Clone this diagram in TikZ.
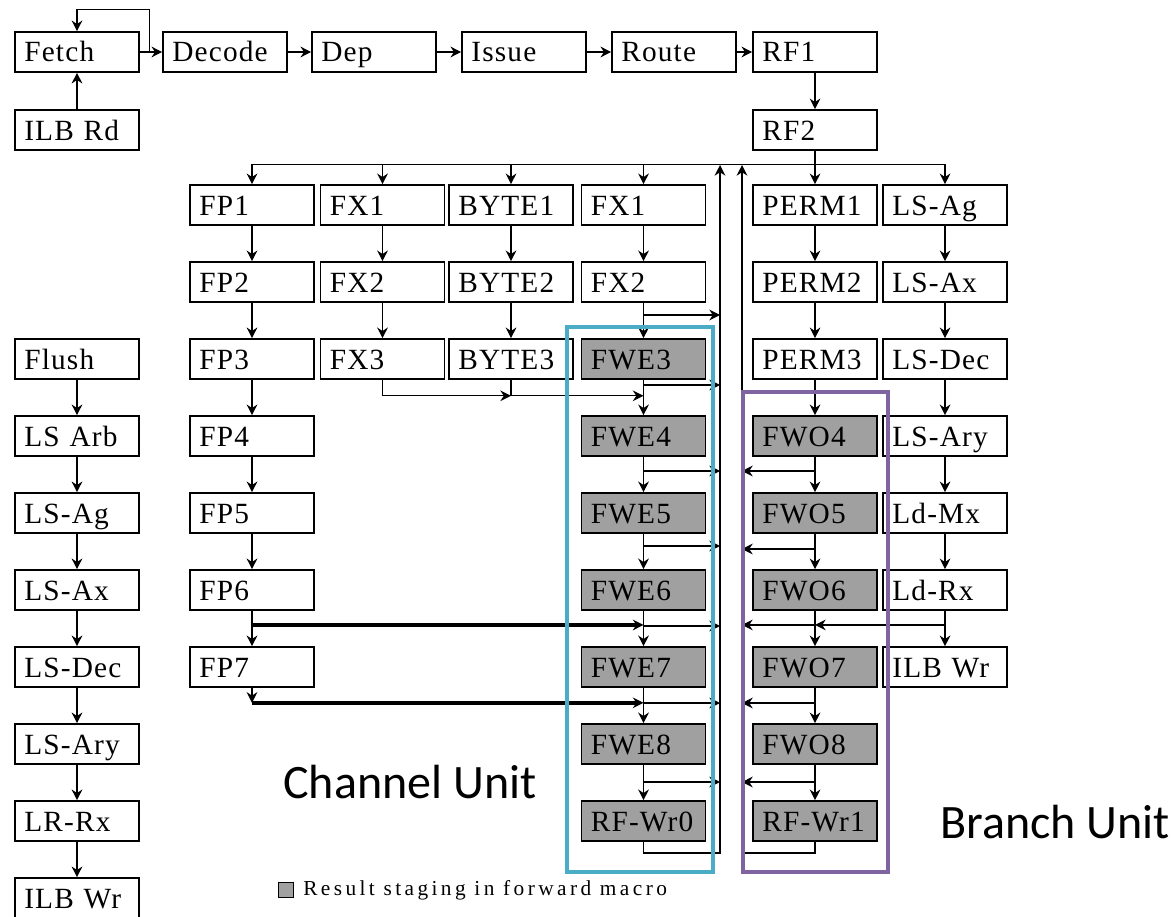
\documentclass[tikz,border=0pt]{standalone}
\usepackage{fontspec}
\setmainfont{Liberation Serif}
\newfontfamily\stagefont[LetterSpace=4]{Liberation Serif}
\newfontfamily\legendfont[LetterSpace=16]{Liberation Serif}
\newfontfamily\unitfont{Carlito}
\usetikzlibrary{arrows.meta,positioning,calc}

\definecolor{stagegray}{RGB}{160,160,160}
\definecolor{chancyan}{RGB}{75,172,198}
\definecolor{branchpurple}{RGB}{128,100,162}

\tikzset{
  stage/.style={draw, line width=1.2pt, rectangle, minimum height=30pt,
    text width=79pt, align=left, inner xsep=7pt, inner ysep=2pt,
    text height=18pt, text depth=3pt, font=\stagefont\fontsize{22}{24}\selectfont},
  fwd/.style={stage, fill=stagegray},
  link/.style={line width=1pt, -{Stealth[length=8pt,width=8pt]}},
  wire/.style={line width=1pt},
  heavy/.style={line width=2.6pt, -{Stealth[length=8pt,width=8pt]}},
  chanframe/.style={draw=chancyan, line width=3pt},
  branchframe/.style={draw=branchpurple, line width=3pt},
  unitlabel/.style={inner sep=0pt, font=\unitfont\fontsize{36}{40}\selectfont}
}

\begin{document}
\begin{tikzpicture}[x=0.75pt,y=0.75pt,yscale=-1,xscale=1]
\useasboundingbox (0,0) rectangle (1174,917);

%Shape: Front end stages
\node[stage] (Fetch) at (77,52) {Fetch};
\node[stage] (Decode) at (225,52) {Decode};
\node[stage] (Dep) at (374,52) {Dep};
\node[stage] (Issue) at (524,52) {Issue};
\node[stage] (Route) at (674,52) {Route};
\node[stage] (RFone) at (815,52) {RF1};
\node[stage] (ILBRd) at (77,130) {ILB Rd};
\node[stage] (RFtwo) at (815,130) {RF2};

%Shape: Pipeline columns
\foreach \t [count=\i] in {FP1,FP2,FP3,FP4,FP5,FP6,FP7}
  \node[stage] (fp\i) at (252,{128+77*\i}) {\t};
\foreach \t [count=\i] in {FX1,FX2,FX3}
  \node[stage] (fx\i) at (382.5,{128+77*\i}) {\t};
\foreach \t [count=\i] in {BYTE1,BYTE2,BYTE3}
  \node[stage] (by\i) at (511,{128+77*\i}) {\t};
\foreach \t [count=\i] in {FX1,FX2}
  \node[stage] (fw\i) at (643.5,{128+77*\i}) {\t};
\foreach \t [count=\i from 3] in {FWE3,FWE4,FWE5,FWE6,FWE7,FWE8,RF-Wr0}
  \node[fwd] (fw\i) at (643.5,{128+77*\i}) {\t};
\foreach \t [count=\i] in {PERM1,PERM2,PERM3}
  \node[stage] (pm\i) at (815,{128+77*\i}) {\t};
\foreach \t [count=\i from 4] in {FWO4,FWO5,FWO6,FWO7,FWO8,RF-Wr1}
  \node[fwd] (pm\i) at (815,{128+77*\i}) {\t};
\foreach \t [count=\i] in {LS-Ag,LS-Ax,LS-Dec,LS-Ary,Ld-Mx,Ld-Rx,ILB Wr}
  \node[stage] (ls\i) at (945,{128+77*\i}) {\t};
\foreach \t [count=\i from 3] in {Flush,LS Arb,LS-Ag,LS-Ax,LS-Dec,LS-Ary,LR-Rx,ILB Wr}
  \node[stage] (lc\i) at (77,{128+77*\i}) {\t};

%Straight Lines: front end
\foreach \a/\b in {Fetch/Decode,Decode/Dep,Dep/Issue,Issue/Route,Route/RFone,RFone/RFtwo}
  \draw[link] (\a) -- (\b);
\draw[link, line width=2pt] (ILBRd) -- (Fetch);
\coordinate (fj) at ($(Fetch.east)!0.42!(Decode.west)$);
\draw[link] (fj) |- ($(Fetch.north)+(0,-22)$) -- (Fetch.north);

%Straight Lines: dispatch bus
\coordinate (busL) at ($(fp1.north)+(0,-20)$);
\draw[wire] (busL) -- (busL -| ls1.north);
\foreach \n in {fp1,fx1,by1,fw1,ls1}
  \draw[link] (\n.north |- busL) -- (\n.north);
\draw[link] (RFtwo) -- (pm1);

%Straight Lines: columns
\foreach \i in {2,...,7}{
  \pgfmathtruncatemacro\k{\i-1}
  \draw[link] (fp\k) -- (fp\i);
  \draw[link] (ls\k) -- (ls\i);
}
\foreach \i in {2,3}{
  \pgfmathtruncatemacro\k{\i-1}
  \draw[link] (fx\k) -- (fx\i);
  \draw[link] (by\k) -- (by\i);
}
\foreach \i in {2,...,9}{
  \pgfmathtruncatemacro\k{\i-1}
  \draw[link] (fw\k) -- (fw\i);
  \draw[link] (pm\k) -- (pm\i);
}
\foreach \i in {4,...,10}{
  \pgfmathtruncatemacro\k{\i-1}
  \draw[link] (lc\k) -- (lc\i);
}

%Straight Lines: result return paths
\coordinate (cTop) at (720,165);
\coordinate (cBot) at (720,853);
\coordinate (bTop) at (742,165);
\coordinate (bBot) at (742,853);
\draw[link] (fw9.south) -- (fw9.south |- cBot) -- (cBot) -- (cTop);
\draw[link] (pm9.south) -- (pm9.south |- bBot) -- (bBot) -- (bTop);

\foreach \n/\y in {fw2/315,fw3/385,fw4/471,fw5/546,fw6/626,fw7/703,fw8/782}
  \draw[link] (\n.south |- 0,\y) -- (cBot |- 0,\y);
\foreach \n/\y in {pm4/471,pm5/549,pm7/703,pm8/782}
  \draw[link] (\n.south |- 0,\y) -- (bBot |- 0,\y);

% load result
\coordinate (ldTap) at ($(ls6.south)!0.4!(ls7.north)$);
\draw[link] (ldTap) -- (pm6.south |- ldTap);
\draw[link] (pm6.south |- ldTap) -- (bBot |- ldTap);

% FX3 and BYTE3 results
\coordinate (fxTap) at ($(fx3.south)+(0,16)$);
\draw[wire] (by3.south) -- (by3.south |- fxTap);
\draw[link] (fx3.south) |- (by3.south |- fxTap);
\draw[link] (by3.south |- fxTap) -- (fw4.north |- fxTap);

% FP6 and FP7 results
\coordinate (fpSix) at ($(fp6.south)!0.4!(fp7.north)$);
\coordinate (fpSeven) at ($(fp7.south)+(0,15)$);
\draw[heavy] (fpSix) -- (fw6.south |- fpSix);
\draw[link] (fp7.south) -- (fpSeven);
\draw[heavy] (fpSeven) -- (fw7.south |- fpSeven);

%Shape: Unit frames
\draw[chanframe] (567,327) rectangle (713,872);
\draw[branchframe] (743,392) rectangle (888,872);

% Text Node
\node[unitlabel, anchor=west] (chanlbl) at (283,782) {Channel Unit};
% Text Node
\node[unitlabel, anchor=west] (brlbl) at (940,822) {Branch Unit};

%Shape: Legend
\node[draw, fill=stagegray, line width=0.8pt, minimum size=11pt, inner sep=0pt] (legbox) at (286,890) {};
\node[anchor=west, inner sep=0pt, font=\legendfont\fontsize{16}{17}\selectfont] (legtxt) at (303,890) {Result staging in forward macro};

\end{tikzpicture}
\end{document}
